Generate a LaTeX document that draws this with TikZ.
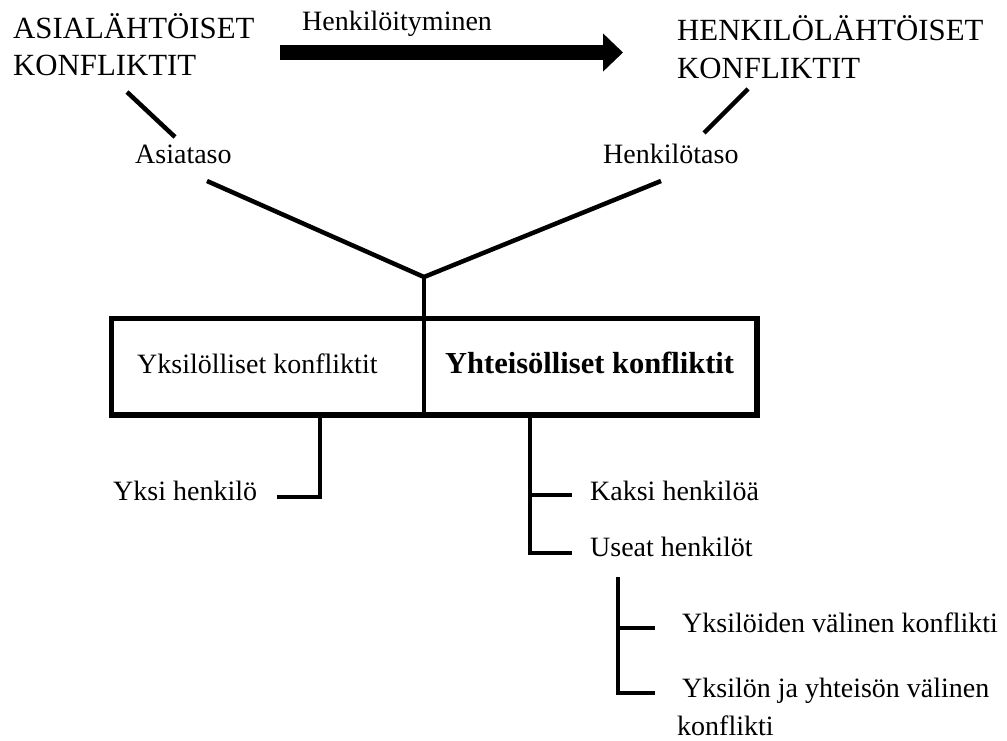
\documentclass[tikz,border=0pt]{standalone}
\usepackage{fontspec}
\setmainfont{Liberation Serif}
\usetikzlibrary{arrows.meta}
\begin{document}
\begin{tikzpicture}[x=1pt,y=-1pt,
  lbl/.style={inner sep=0pt, anchor=base west, font=\fontsize{28}{33}\selectfont},
  ttl/.style={inner sep=0pt, anchor=base west, font=\fontsize{30.8}{36}\selectfont},
  link/.style={line width=4.5pt},
  branch/.style={line width=3.5pt},
]
\useasboundingbox (0,0) rectangle (1007,740);

% titles and the transition arrow
\node[ttl] (asia1) at (13,38) {ASIALÄHTÖISET};
\node[ttl] (asia2) at (13,75) {KONFLIKTIT};
\node[ttl] (henk1) at (677,40) {HENKILÖLÄHTÖISET};
\node[ttl] (henk2) at (677,78) {KONFLIKTIT};
\node[lbl] (pers) at (302,30) {Henkilöityminen};
\coordinate (arrS) at (280,52.5);
\coordinate (arrE) at (623,52.5);
\draw[line width=15pt, -{Triangle[length=20pt,width=37pt]}] (arrS) -- (arrE);

% levels
\node[lbl] (asiataso) at (135,163) {Asiataso};
\node[lbl] (henktaso) at (603,163) {Henkilötaso};
\coordinate (a1) at (127,92);  \coordinate (a2) at (175,137);
\coordinate (h1) at (748,89);  \coordinate (h2) at (704,133);
\draw[link] (a1) -- (a2);
\draw[link] (h1) -- (h2);

% merge into the box
\coordinate (la) at (207,181);
\coordinate (ra) at (661,181);
\coordinate (join) at (424,277);
\coordinate (boxNW) at (111.5,318.5);
\coordinate (boxSE) at (757,415);
\coordinate (divT) at (424,318.5);
\coordinate (divB) at (424,415);
\draw[link, line join=miter] (la) -- (join) -- (ra);
\draw[line width=4pt] (join) -- (divT);
\draw[line width=5.5pt] (boxNW) rectangle (boxSE);
\draw[line width=4pt] (divT) -- (divB);
\node[lbl] (yks) at (137,373) {Yksilölliset konfliktit};
\node[lbl, font=\fontsize{30.5}{36}\selectfont\bfseries] (yht) at (445,373) {Yhteisölliset konfliktit};

% individual branch
\coordinate (lb0) at (320,415);
\coordinate (lb1) at (277,497);
\node[lbl] (yksi) at (113,500) {Yksi henkilö};
\draw[branch] (lb0) |- (lb1);

% collective branch
\coordinate (rb0) at (530,415);
\coordinate (rb1) at (572,495);
\coordinate (rb2) at (572,553);
\draw[branch] (rb0) |- (rb2);
\draw[branch] (rb0 |- rb1) -- (rb1);
\node[lbl] (kaksi) at (590,500) {Kaksi henkilöä};
\node[lbl] (useat) at (590,556) {Useat henkilöt};

% several persons
\coordinate (sb0) at (618,577);
\coordinate (sb1) at (655,628);
\coordinate (sb2) at (655,693);
\draw[branch] (sb0) |- (sb2);
\draw[branch] (sb0 |- sb1) -- (sb1);
\node[lbl] (vali) at (682,632) {Yksilöiden välinen konflikti};
\node[lbl] (yht2) at (682,697) {Yksilön ja yhteisön välinen};
\node[lbl] (konf) at (677,735) {konflikti};
\end{tikzpicture}
\end{document}
